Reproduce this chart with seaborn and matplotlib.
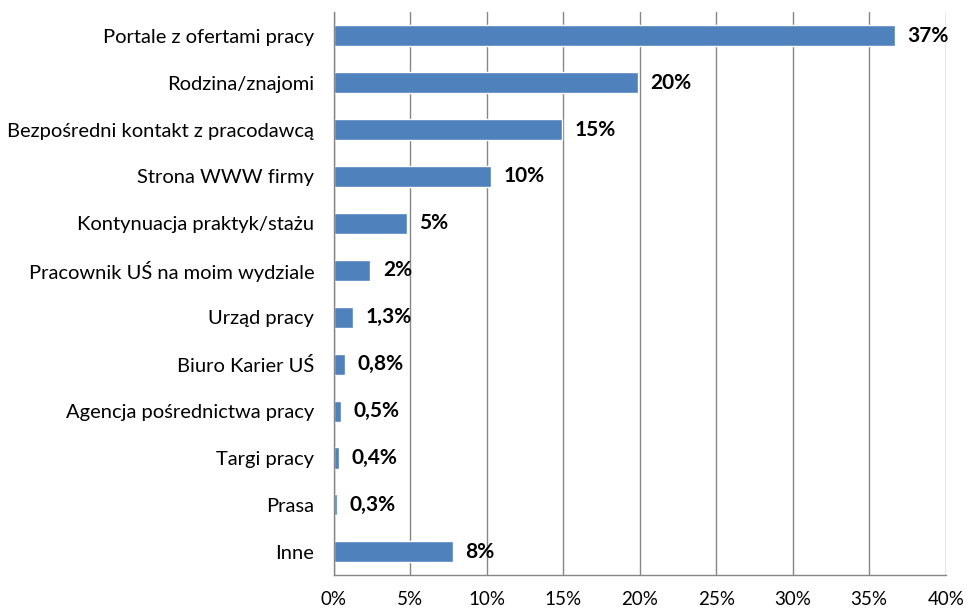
import matplotlib
matplotlib.use("Agg")
import matplotlib.pyplot as plt
import seaborn as sns
import pandas as pd
import numpy as np

categories = [
    "Portale z ofertami pracy",
    "Rodzina/znajomi",
    "Bezpośredni kontakt z pracodawcą",
    "Strona WWW firmy",
    "Kontynuacja praktyk/stażu",
    "Pracownik UŚ na moim wydziale",
    "Urząd pracy",
    "Biuro Karier UŚ",
    "Agencja pośrednictwa pracy",
    "Targi pracy",
    "Prasa",
    "Inne",
]
values = [36.7, 19.9, 14.9, 10.3, 4.8, 2.4, 1.25, 0.75, 0.5, 0.35, 0.25, 7.8]
value_labels = ["37%", "20%", "15%", "10%", "5%", "2%", "1,3%", "0,8%", "0,5%", "0,4%", "0,3%", "8%"]
xticks = [0, 5, 10, 15, 20, 25, 30, 35, 40]
xtick_labels = ["0%", "5%", "10%", "15%", "20%", "25%", "30%", "35%", "40%"]

sns.set_theme(style="white")
plt.rcParams["font.family"] = ["Lato", "DejaVu Sans"]

df = pd.DataFrame({"cat": categories, "val": values})

fig = plt.figure(figsize=(9.67, 6.12), dpi=100)
ax = fig.add_axes([0.345, 0.06, 0.633, 0.92])

sns.barplot(data=df, y="cat", x="val", orient="h", color="#4F81BD",
            saturation=1, width=0.45, ax=ax, order=categories)

ax.set_xlim(0, 40)
ax.set_ylim(len(categories) - 0.5, -0.5)
ax.set_xticks(xticks)
ax.set_xticklabels(xtick_labels, fontsize=13.5, color="black")
ax.tick_params(axis="x", length=4, width=1, color="#868686", pad=7, direction="out")
ax.tick_params(axis="y", which="major", length=0, labelsize=14.5, labelcolor="black", pad=14)
ax.set_yticks(np.arange(-0.5, len(categories) + 0.5, 1), minor=True)
ax.tick_params(axis="y", which="minor", length=4, width=1, color="#868686", direction="out")
ax.set_xlabel("")
ax.set_ylabel("")

ax.xaxis.grid(True, color="#868686", linewidth=1)
ax.set_axisbelow(True)
for s in ["top", "right"]:
    ax.spines[s].set_visible(False)
for s in ["left", "bottom"]:
    ax.spines[s].set_color("#868686")
    ax.spines[s].set_linewidth(1)

for i, (v, lab) in enumerate(zip(values, value_labels)):
    ax.annotate(lab, xy=(v, i), xytext=(9, 0), textcoords="offset points",
                ha="left", va="center", fontsize=15, fontweight="bold", color="black")

fig.savefig("out.png", dpi=100)
